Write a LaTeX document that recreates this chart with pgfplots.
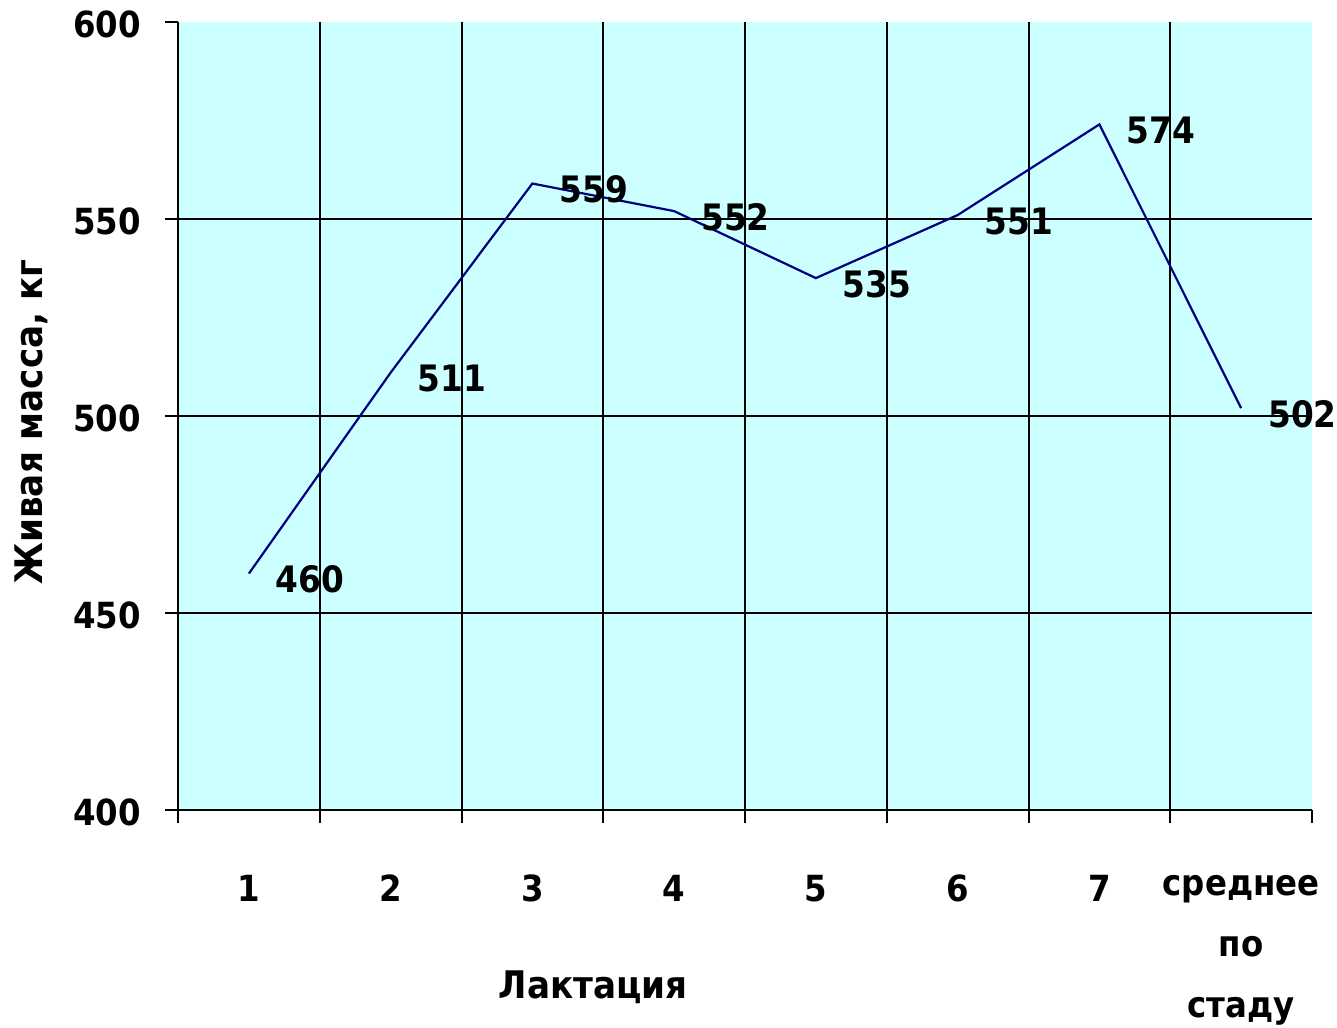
\documentclass[border=0pt]{standalone}
\usepackage{fontspec}
\setmainfont{DejaVu Sans Condensed}
\usepackage{pgfplots}
\pgfplotsset{compat=1.18}
\definecolor{bgc}{HTML}{CCFFFF}
\definecolor{ln}{HTML}{000080}
\begin{document}
\begin{tikzpicture}
\begin{axis}[
  scale only axis, width=567pt, height=394pt,
  xmin=-0.5, xmax=7.5, ymin=400, ymax=600,
  axis x line*=bottom, axis y line*=left,
  axis line style={black, line width=1pt},
  axis background/.style={fill=bgc},
  /pgf/number format/assume math mode=true,
  font=\fontsize{18}{30.5}\selectfont\bfseries,
  tick align=outside,
  xtick={0,...,7},
  xticklabels={1,2,3,4,5,6,7,{среднее\\по\\стаду}},
  major x tick style={draw=none},
  minor xtick={0.5,1.5,...,6.5},
  xminorgrids,
  minor x grid style={black, line width=1pt},
  minor tick length=6.5pt,
  minor x tick style={black, line width=1pt},
  extra x ticks={-0.5,7.5},
  extra x tick labels={},
  extra x tick style={grid=none, major tick length=6.5pt, major x tick style={draw=black, line width=1pt}},
  xticklabel style={align=center, anchor=north, yshift=-22.5pt},
  ytick={400,450,500,550},
  ymajorgrids,
  major y grid style={black, line width=1pt},
  major tick length=6.5pt,
  major y tick style={black, line width=1pt},
  extra y ticks={600},
  extra y tick style={grid=none},
  yticklabel style={anchor=east, xshift=-8.5pt, yshift=-1pt},
  xlabel={Лактация},
  xlabel style={at={(axis description cs:0.366,0)}, anchor=center, yshift=-88.5pt, font=\fontsize{19}{22}\selectfont\bfseries},
  ylabel={Живая масса, кг},
  ylabel style={at={([xshift=-73.5pt,yshift=-3pt]axis description cs:0,0.5)}, anchor=center, font=\fontsize{19}{22}\selectfont\bfseries},
  clip=false,
]
\addplot[color=ln, line width=1.1pt, mark=none,
  nodes near coords,
  every node near coord/.append style={anchor=west, inner sep=0pt, xshift=13pt, yshift=-3pt, text=black, font=\fontsize{18.2}{20}\selectfont\bfseries}]
coordinates {(0,460) (1,511) (2,559) (3,552) (4,535) (5,551) (6,574) (7,502)};
\end{axis}
\pgfresetboundingbox
\useasboundingbox (-89pt,-108.5pt) rectangle (579.5pt,405pt);
\end{tikzpicture}
\end{document}
